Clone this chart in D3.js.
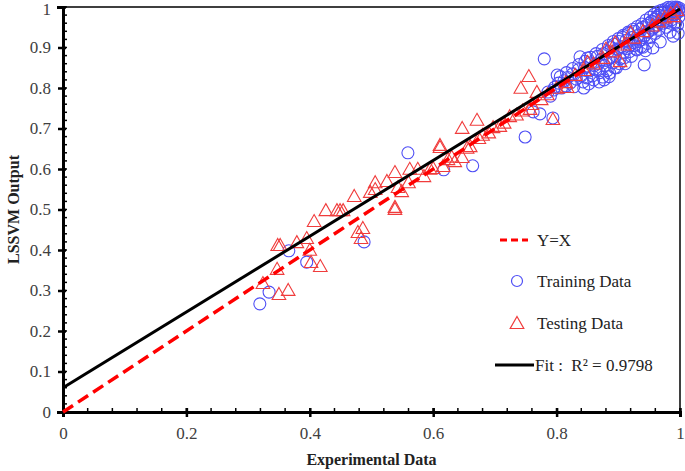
<!DOCTYPE html>
<html><head><meta charset="utf-8">
<script src="https://cdn.jsdelivr.net/npm/d3@7"></script>
<style>body{margin:0;background:#fff}svg{display:block}text{font-family:'Liberation Serif','Times New Roman','DejaVu Serif',serif !important}</style>
</head><body><svg id="c" width="685" height="471"></svg>
<script>
const xTicks = [0, 0.2, 0.4, 0.6, 0.8, 1];
const yTicks = [0, 0.1, 0.2, 0.3, 0.4, 0.5, 0.6, 0.7, 0.8, 0.9, 1];
const fitIntercept = 0.06, fitSlope = 0.935;
const legendLabels = ["Y=X", "Training Data", "Testing Data", "Fit :\u00A0\u00A0R\u00B2 = 0.9798"];
const trainingPoints = [
[0.319,0.267],[0.334,0.296],[0.366,0.398],[0.395,0.370],[0.488,0.420],
[0.559,0.640],[0.617,0.598],[0.664,0.608],[0.749,0.679],[0.762,0.741],[0.773,0.736],[0.780,0.872],[0.786,0.790],[0.794,0.726],[0.797,0.802],[0.801,0.832],
[0.790,0.780],[0.795,0.795],[0.803,0.812],[0.808,0.800],[0.812,0.818],[0.815,0.805],[0.818,0.826],[0.822,0.812],[0.826,0.835],[0.828,0.803],[0.832,0.822],[0.835,0.845],[0.838,0.877],[0.840,0.830],[0.843,0.815],[0.846,0.850],[0.849,0.825],[0.850,0.874],[0.853,0.842],[0.856,0.862],[0.858,0.830],[0.861,0.855],[0.864,0.845],[0.866,0.878],[0.868,0.860],[0.870,0.838],[0.872,0.870],[0.875,0.827],[0.876,0.885],[0.878,0.855],[0.880,0.868],[0.882,0.843],[0.884,0.890],[0.886,0.837],[0.887,0.875],[0.889,0.900],[0.891,0.862],[0.893,0.908],[0.895,0.880],[0.897,0.850],[0.899,0.895],[0.901,0.915],[0.903,0.872],[0.905,0.902],[0.907,0.925],[0.909,0.888],[0.911,0.860],[0.913,0.918],[0.915,0.897],[0.917,0.935],[0.919,0.905],[0.921,0.878],[0.923,0.925],[0.925,0.912],[0.927,0.940],[0.929,0.896],[0.930,0.894],[0.932,0.930],[0.934,0.945],[0.936,0.918],[0.937,0.902],[0.939,0.950],[0.940,0.901],[0.942,0.857],[0.943,0.930],[0.944,0.892],[0.946,0.955],[0.947,0.910],[0.949,0.940],[0.950,0.960],[0.952,0.925],[0.954,0.965],[0.956,0.899],[0.957,0.948],[0.959,0.970],[0.960,0.935],[0.962,0.975],[0.963,0.955],[0.965,0.980],[0.966,0.945],[0.968,0.914],[0.969,0.968],[0.971,0.985],[0.972,0.960],[0.974,0.978],[0.975,0.990],[0.977,0.970],[0.978,0.950],[0.980,0.988],[0.981,0.978],[0.983,0.995],[0.984,0.938],[0.985,0.985],[0.986,0.968],[0.988,0.993],[0.989,0.928],[0.990,0.980],[0.991,0.998],[0.992,0.990],[0.993,0.960],[0.994,0.995],[0.995,0.985],[0.996,0.999],[0.997,0.935],[0.998,0.992],[0.999,0.997],[1.000,0.990],
[0.976,0.995],[0.970,0.992],[0.964,0.988],[0.958,0.982],[0.952,0.975],[0.945,0.968],[0.938,0.958],[0.931,0.952],[0.924,0.945],[0.916,0.938],[0.908,0.930],[0.900,0.922],[0.892,0.915],[0.884,0.905],[0.874,0.895],[0.864,0.885],[0.855,0.876],[0.846,0.866],[0.836,0.858],[0.826,0.848],[0.816,0.838],[0.806,0.828],
[0.985,0.960],[0.979,0.962],[0.960,0.952],[0.955,0.945],[0.948,0.938],[0.941,0.925],[0.933,0.915],[0.926,0.905],[0.918,0.890],[0.910,0.875],[0.902,0.860],[0.894,0.850],[0.885,0.828],[0.877,0.820],[0.869,0.815],[0.860,0.820],[0.852,0.810],[0.844,0.800],
[0.993,1.000],[0.987,1.000],[0.981,0.999],[0.998,0.975],[0.996,0.955]
];
const testingPoints = [
[0.324,0.316],[0.347,0.351],[0.348,0.410],[0.352,0.410],[0.350,0.289],[0.365,0.299],[0.379,0.417],[0.395,0.427],[0.400,0.398],[0.402,0.368],[0.417,0.358],[0.407,0.469],[0.426,0.496],[0.444,0.496],[0.449,0.496],[0.454,0.496],[0.472,0.531],[0.478,0.442],[0.486,0.452],[0.483,0.427],[0.498,0.541],[0.506,0.548],[0.506,0.565],[0.525,0.568],[0.538,0.499],[0.543,0.553],
[0.538,0.590],[0.549,0.543],[0.538,0.504],[0.562,0.598],[0.575,0.598],[0.595,0.598],[0.616,0.605],[0.624,0.622],[0.635,0.617],[0.647,0.627],[0.611,0.657],[0.611,0.652],[0.660,0.654],[0.647,0.699],[0.671,0.719],[0.674,0.674],[0.697,0.701],[0.708,0.704],[0.724,0.728],[0.742,0.798],[0.755,0.827],[0.768,0.788],[0.757,0.746],[0.794,0.721],[0.817,0.800],
[0.560,0.565],[0.585,0.580],[0.600,0.600],[0.630,0.628],[0.655,0.650],[0.680,0.682],[0.690,0.688],[0.715,0.712],[0.735,0.732],[0.745,0.742],[0.760,0.758],[0.775,0.770],[0.785,0.782],[0.800,0.798],[0.815,0.812],[0.830,0.830],[0.845,0.842],[0.860,0.858],[0.875,0.872],[0.890,0.888],[0.903,0.864],[0.910,0.905],[0.925,0.922],[0.940,0.938],[0.955,0.952],[0.965,0.962],[0.975,0.972],[0.990,0.975],[0.985,0.982],[0.995,0.990],[0.880,0.895],[0.895,0.910],[0.850,0.862],[0.920,0.935]
];

const svg = d3.select("#c");
const L = 63, R = 680, T = 7, B = 412;
const FONT = "'Liberation Serif','Times New Roman','DejaVu Serif',serif";
const x = d3.scaleLinear().domain([0, 1]).range([L, R]);
const y = d3.scaleLinear().domain([0, 1]).range([B, T]);
const blue = "#4f4ff5", red = "#f03c3c";
const tri = "M0,-7.5L6.8,4.5L-6.8,4.5Z";

svg.append("path").attr("d", `M${L},${T}H${R}V${B}`).attr("fill", "none").attr("stroke", "#000").attr("stroke-width", 1.5);

const gx = svg.append("g");
d3.range(0, 1.0001, 0.04).forEach(v => {
  gx.append("line").attr("x1", x(v)).attr("x2", x(v)).attr("y1", B).attr("y2", B - 4).attr("stroke", "#000").attr("stroke-width", 1.5);
});
d3.range(0, 1.0001, 0.02).forEach(v => {
  gx.append("line").attr("y1", y(v)).attr("y2", y(v)).attr("x1", L).attr("x2", L + 4).attr("stroke", "#000").attr("stroke-width", 1.5);
});

const xAxis = svg.append("g").attr("transform", `translate(0,${B})`)
  .call(d3.axisBottom(x).tickValues(xTicks).tickFormat(d3.format("")).tickSize(5).tickPadding(10));
const yAxis = svg.append("g").attr("transform", `translate(${L},0)`)
  .call(d3.axisLeft(y).tickValues(yTicks).tickFormat(d3.format("")).tickSize(6).tickPadding(6));
[xAxis, yAxis].forEach(a => {
  a.attr("font-family", FONT);
  a.select(".domain").attr("stroke", "#000").attr("stroke-width", 3);
  a.selectAll(".tick line").attr("stroke", "#000").attr("stroke-width", 2.5);
  a.selectAll(".tick text").attr("font-size", 17).attr("fill", "#404040").attr("font-family", FONT);
});
xAxis.selectAll(".tick line").attr("y1", -4);
yAxis.selectAll(".tick line").attr("x2", -5).attr("x1", 3);
yAxis.selectAll(".tick text").filter(d => d === 1).attr("dy", "0.45em");

svg.append("text").attr("x", (L + R) / 2).attr("y", 465).attr("text-anchor", "middle").attr("font-family", FONT)
  .attr("font-size", 16).attr("font-weight", "bold").attr("fill", "#222").text("Experimental Data");
svg.append("text").attr("transform", `translate(19,${(T + B) / 2}) rotate(-90)`).attr("text-anchor", "middle").attr("font-family", FONT)
  .attr("font-size", 16).attr("font-weight", "bold").attr("fill", "#222").text("LSSVM Output");

svg.append("g").selectAll("circle").data(trainingPoints).join("circle")
  .attr("cx", d => x(d[0])).attr("cy", d => y(d[1])).attr("r", 6)
  .attr("fill", "none").attr("stroke", blue).attr("stroke-width", 1.1);
svg.append("g").selectAll("path").data(testingPoints).join("path")
  .attr("d", tri).attr("transform", d => `translate(${x(d[0])},${y(d[1])})`)
  .attr("fill", "none").attr("stroke", red).attr("stroke-width", 1.1);

svg.append("line").attr("x1", x(0)).attr("y1", y(fitIntercept)).attr("x2", x(1)).attr("y2", y(fitIntercept + fitSlope))
  .attr("stroke", "#000").attr("stroke-width", 3);
svg.append("line").attr("x1", x(0)).attr("y1", y(0)).attr("x2", x(1)).attr("y2", y(1))
  .attr("stroke", "#ff0000").attr("stroke-width", 3.5).attr("stroke-dasharray", "12,6");

const lg = svg.append("g");
lg.append("line").attr("x1", 500).attr("x2", 528).attr("y1", 240).attr("y2", 240)
  .attr("stroke", "#ff0000").attr("stroke-width", 3).attr("stroke-dasharray", "7,4");
lg.append("circle").attr("cx", 517).attr("cy", 281).attr("r", 5.5).attr("fill", "none").attr("stroke", blue).attr("stroke-width", 1.2);
lg.append("path").attr("d", tri).attr("transform", "translate(517,324)").attr("fill", "none").attr("stroke", red).attr("stroke-width", 1.2);
lg.append("line").attr("x1", 495).attr("x2", 534).attr("y1", 365).attr("y2", 365).attr("stroke", "#000").attr("stroke-width", 3);
const lx = [537, 537, 537, 535], ly = [246, 287, 329, 371];
legendLabels.forEach((t, i) => {
  lg.append("text").attr("x", lx[i]).attr("y", ly[i]).attr("font-family", FONT).attr("font-size", 17).attr("fill", "#222").text(t);
});
</script></body></html>
